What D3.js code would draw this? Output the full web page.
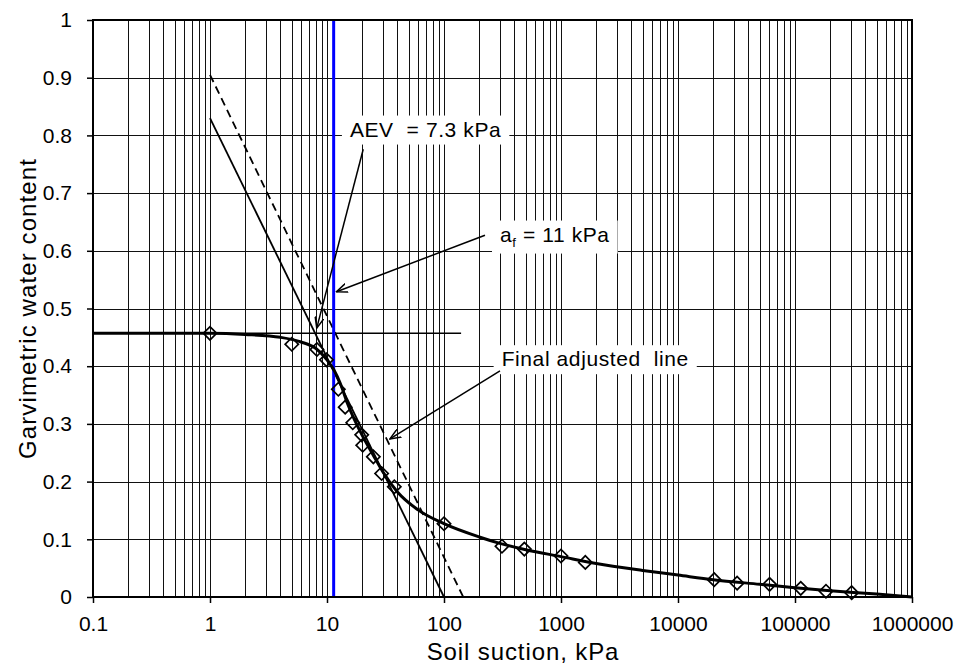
<!DOCTYPE html>
<html>
<head>
<meta charset="utf-8">
<script src="https://cdn.jsdelivr.net/npm/d3@7"></script>
<style>
  html, body { margin: 0; padding: 0; background: #fff; overflow: hidden; }
  svg { display: block; }
  svg text { font-family: "Liberation Sans", Arial, sans-serif; fill: #000; }
</style>
</head>
<body>
<div id="chart"></div>
<script>
// measured points (suction kPa, gravimetric water content)
const suction = [1, 5, 8.2, 9.9, 12.5, 14.3, 16.6, 19.8, 20.2, 24.9, 29.3, 37.6, 100, 313, 486, 1000, 1614, 20400, 32000, 60600, 112000, 184000, 305000];
const water   = [0.457, 0.438, 0.429, 0.411, 0.360, 0.329, 0.302, 0.281, 0.263, 0.243, 0.214, 0.191, 0.127, 0.088, 0.083, 0.071, 0.060, 0.030, 0.024, 0.022, 0.015, 0.010, 0.0075];

// fitted curve
const fitSuction = [0.1, 1, 2, 4, 6, 8, 10, 11.5, 13, 15, 20, 25, 30, 40, 60, 100, 200, 300, 500, 1000, 2000, 5000, 10000, 20000, 50000, 100000, 200000, 500000, 1000000];
const fitWater   = [0.457, 0.457, 0.455, 0.450, 0.442, 0.431, 0.411, 0.393, 0.370, 0.335, 0.280, 0.245, 0.217, 0.182, 0.151, 0.127, 0.104, 0.093, 0.082, 0.070, 0.058, 0.046, 0.038, 0.030, 0.022, 0.016, 0.011, 0.005, 0];

// construction lines
const satLineX = [0.1, 140], satLineY = [0.457, 0.457];
const tangentX = [1, 100], tangentY = [0.83, 0];
const adjustedX = [1, 146], adjustedY = [0.905, 0];
const afValue = 11.4;

// axis tick labels
const xTickValues = [0.1, 1, 10, 100, 1000, 10000, 100000, 1000000];
const xTickLabels = ["0.1", "1", "10", "100", "1000", "10000", "100000", "1000000"];
const yTickValues = [0, 0.1, 0.2, 0.3, 0.4, 0.5, 0.6, 0.7, 0.8, 0.9, 1];
const yTickLabels = ["0", "0.1", "0.2", "0.3", "0.4", "0.5", "0.6", "0.7", "0.8", "0.9", "1"];

// annotations (text anchor in data units, arrow from -> to)
const notes = [
  { label: "AEV  = 7.3 kPa", tx: 15.7, ty: 0.798, from: [20.4, 0.776], to: [8.17, 0.466] },
  { label: "af", tx: 301, ty: 0.616, from: [224, 0.627], to: [12.05, 0.529] },
  { label: "Final adjusted  line", tx: 311, ty: 0.400, from: [301, 0.392], to: [34.5, 0.274] }
];

const width = 961, height = 671;
const margin = { top: 20, right: 49, bottom: 74, left: 93 };
const innerWidth = width - margin.left - margin.right;
const innerHeight = height - margin.top - margin.bottom;

const svg = d3.select("#chart").append("svg")
  .attr("width", width)
  .attr("height", height);

const defs = svg.append("defs");
defs.append("marker")
  .attr("id", "arrow")
  .attr("viewBox", "0 0 12 10")
  .attr("refX", 11).attr("refY", 5)
  .attr("markerUnits", "userSpaceOnUse")
  .attr("markerWidth", 12).attr("markerHeight", 10)
  .attr("orient", "auto")
  .append("path")
  .attr("d", "M0,0.5 L11,5 L0,9.5")
  .attr("fill", "none")
  .attr("stroke", "#000")
  .attr("stroke-width", 1.5);

const g = svg.append("g")
  .attr("transform", `translate(${margin.left},${margin.top})`);

const x = d3.scaleLog().domain([0.1, 1000000]).range([0, innerWidth]);
const y = d3.scaleLinear().domain([0, 1]).range([innerHeight, 0]);

// gridlines: every 1..9 per decade, and every 0.1 on y
g.append("g")
  .selectAll("line")
  .data(x.ticks())
  .enter().append("line")
  .attr("x1", d => Math.round(x(d)) + 0.5)
  .attr("x2", d => Math.round(x(d)) + 0.5)
  .attr("y1", 0).attr("y2", innerHeight)
  .attr("stroke", "#111")
  .attr("stroke-width", 1);

g.append("g")
  .selectAll("line")
  .data(yTickValues)
  .enter().append("line")
  .attr("x1", 0).attr("x2", innerWidth)
  .attr("y1", d => Math.round(y(d)) + 0.5)
  .attr("y2", d => Math.round(y(d)) + 0.5)
  .attr("stroke", "#111")
  .attr("stroke-width", 1);

// axes
const xAxis = g.append("g")
  .attr("transform", `translate(0,${innerHeight})`)
  .call(d3.axisBottom(x).tickValues(xTickValues).tickSize(6).tickPadding(13)
    .tickFormat((d, i) => xTickLabels[i]));

const yAxis = g.append("g")
  .call(d3.axisLeft(y).tickValues(yTickValues).tickSize(6).tickPadding(15)
    .tickFormat((d, i) => yTickLabels[i]));

[xAxis, yAxis].forEach(a => {
  a.attr("font-size", 21).attr("font-family", null);
  a.select(".domain").remove();
  a.selectAll("line").attr("stroke", "#000").attr("stroke-width", 1.5);
});

// axis titles
g.append("text")
  .attr("x", 430)
  .attr("y", innerHeight + 63)
  .attr("text-anchor", "middle")
  .attr("font-size", 24)
  .attr("letter-spacing", 0.9)
  .text("Soil suction, kPa");

g.append("text")
  .attr("transform", "rotate(-90)")
  .attr("x", -innerHeight / 2)
  .attr("y", -57)
  .attr("text-anchor", "middle")
  .attr("font-size", 24)
  .attr("letter-spacing", 1.1)
  .text("Garvimetric water content");

const line = d3.line().x(d => x(d[0])).y(d => y(d[1]));

// saturation line, tangent, dashed adjusted line
g.append("path")
  .datum(d3.zip(satLineX, satLineY))
  .attr("fill", "none").attr("stroke", "#000").attr("stroke-width", 1.6)
  .attr("d", line);

g.append("path")
  .datum(d3.zip(tangentX, tangentY))
  .attr("fill", "none").attr("stroke", "#000").attr("stroke-width", 1.8)
  .attr("d", line);

g.append("path")
  .datum(d3.zip(adjustedX, adjustedY))
  .attr("fill", "none").attr("stroke", "#000").attr("stroke-width", 1.8)
  .attr("stroke-dasharray", "8,5")
  .attr("d", line);

// a_f marker
g.append("line")
  .attr("x1", x(afValue)).attr("x2", x(afValue))
  .attr("y1", 0).attr("y2", innerHeight)
  .attr("stroke", "#0000ff")
  .attr("stroke-width", 3);

// fitted curve
g.append("path")
  .datum(d3.zip(fitSuction, fitWater))
  .attr("fill", "none").attr("stroke", "#000").attr("stroke-width", 3)
  .attr("d", line.curve(d3.curveMonotoneX));

// measured points as diamonds
g.selectAll("path.pt")
  .data(d3.zip(suction, water))
  .enter().append("path")
  .attr("class", "pt")
  .attr("d", d3.symbol(d3.symbolSquare, 88))
  .attr("transform", d => `translate(${x(d[0])},${y(d[1])}) rotate(45)`)
  .attr("fill", "none")
  .attr("stroke", "#000")
  .attr("stroke-width", 1.7);

// annotation labels on white boxes, then arrows
notes.forEach(n => {
  const t = g.append("text")
    .attr("x", x(n.tx))
    .attr("y", y(n.ty))
    .attr("font-size", 21)
    .style("white-space", "pre")
    .attr("letter-spacing", 0.6);
  if (n.label === "af") {
    t.append("tspan").text("a");
    t.append("tspan").attr("font-size", 13).attr("dy", 5).text("f");
    t.append("tspan").attr("dy", -5).text(" = 11 kPa");
  } else {
    t.text(n.label);
  }
  const bb = t.node().getBBox();
  g.insert("rect", () => t.node())
    .attr("x", bb.x - 8).attr("y", bb.y - 2)
    .attr("width", bb.width + 16).attr("height", bb.height + 6)
    .attr("fill", "#fff");
});

g.selectAll("line.arrow")
  .data(notes)
  .enter().append("line")
  .attr("class", "arrow")
  .attr("x1", d => x(d.from[0])).attr("y1", d => y(d.from[1]))
  .attr("x2", d => x(d.to[0])).attr("y2", d => y(d.to[1]))
  .attr("stroke", "#000")
  .attr("stroke-width", 1.5)
  .attr("marker-end", "url(#arrow)");

// plot frame
g.append("rect")
  .attr("x", 0).attr("y", 0)
  .attr("width", innerWidth).attr("height", innerHeight)
  .attr("fill", "none")
  .attr("stroke", "#000")
  .attr("stroke-width", 2);
</script>
</body>
</html>
